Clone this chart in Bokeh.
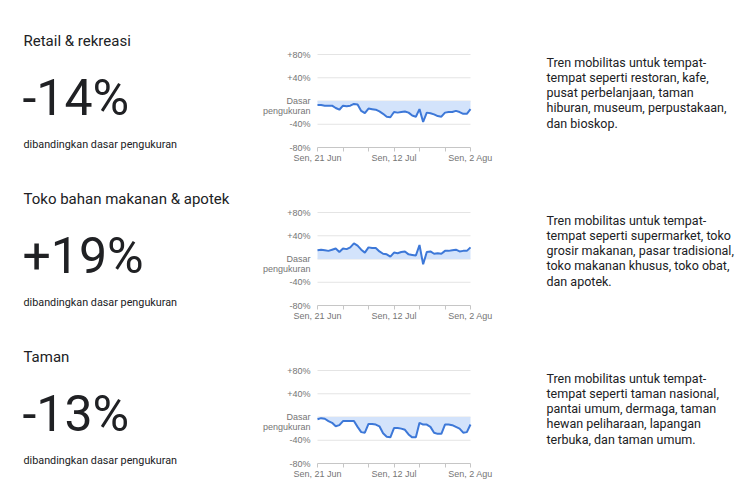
from bokeh.plotting import figure
from bokeh.models import ColumnDataSource, Range1d, FixedTicker, LinearAxis
from bokeh.layouts import column
from bokeh.core.properties import value
from bokeh.embed import file_html
from bokeh.resources import INLINE

# ---------------- data ----------------
categories = ["Retail & rekreasi", "Toko bahan makanan & apotek", "Taman"]
headlines = ["-14%", "+19%", "-13%"]
subtitle = "dibandingkan dasar pengukuran"
descriptions = [
    ["Tren mobilitas untuk tempat-", "tempat seperti restoran, kafe,",
     "pusat perbelanjaan, taman", "hiburan, museum, perpustakaan,", "dan bioskop."],
    ["Tren mobilitas untuk tempat-", "tempat seperti supermarket, toko",
     "grosir makanan, pasar tradisional,", "toko makanan khusus, toko obat,", "dan apotek."],
    ["Tren mobilitas untuk tempat-", "tempat seperti taman nasional,",
     "pantai umum, dermaga, taman", "hewan peliharaan, lapangan", "terbuka, dan taman umum."],
]

days = list(range(43))  # 21 Jun .. 2 Agu
retail = [-7, -7, -8, -8, -8, -12, -15, -8, -9, -8,
          -5, -6, -17, -21, -13, -14, -15, -18, -22, -27,
          -28, -19, -20, -19, -18, -20, -25, -27, -14, -36,
          -20, -21, -23, -26, -27, -20, -19, -19, -17, -19,
          -22, -22, -14]
grocery = [15, 16, 15, 14, 16, 18, 12, 18, 17, 20,
           27, 23, 16, 11, 20, 19, 19, 13, 9, 8,
           4, 11, 10, 12, 13, 8, 7, 6, 24, -9,
           12, 13, 9, 10, 9, 14, 14, 15, 16, 13,
           14, 14, 20]
parks = [-4, -2, -3, -7, -10, -16, -14, -7, -7, -7,
         -7, -17, -26, -27, -12, -12, -13, -16, -28, -34,
         -35, -19, -19, -20, -22, -30, -35, -35, -10, -13,
         -13, -17, -27, -29, -29, -13, -13, -14, -17, -20,
         -27, -26, -13]
series = [retail, grocery, parks]

week_ticks = [0, 7, 14, 21, 28, 35, 42]
x_tick_labels = {0: "Sen, 21 Jun", 21: "Sen, 12 Jul", 42: "Sen, 2 Agu"}
y_ticks = [-80, -40, 0, 40, 80]
y_tick_labels = {80: "+80%", 40: "+40%", 0: "\nDasar\npengukuran", -40: "-40%", -80: "-80%"}

# ---------------- layout constants ----------------
W = 750
CH_L, CH_R = 317, 470          # chart area, px
CH_H = 93                       # chart area height, px
DARK = "#202124"
FONT = "Roboto"
AX_FONT = "Liberation Sans"
GRAY = "#757575"


def make_row(i, pad):
    h = 158 + pad
    top = 46 + pad              # px of +80%
    bot = top + CH_H            # px of -80%
    x0, x1 = days[0], days[-1]
    y0, y1 = y_ticks[0], y_ticks[-1]
    kx = (CH_R - CH_L) / (x1 - x0)
    ky = CH_H / (y1 - y0)
    p = figure(width=W, height=h,
               x_range=Range1d(x0 - CH_L / kx, x1 + (W - CH_R) / kx),
               y_range=Range1d(y0 - (h - bot) / ky, y1 + top / ky),
               x_axis_location=None, y_axis_location=None,
               output_backend="svg", toolbar_location=None, min_border=0,
               outline_line_color=None, background_fill_color="white",
               border_fill_color="white")
    p.grid.grid_line_color = None
    p.extra_x_ranges = {"px": Range1d(0, W)}
    p.extra_y_ranges = {"px": Range1d(h, 0)}

    # ---- texts (pixel coordinates, vertical centres) ----
    def txt(xs, ys, texts, size):
        p.text(x=xs, y=ys, text=texts, x_range_name="px", y_range_name="px",
               text_font=value(FONT), text_font_size=size, text_color=DARK,
               text_baseline="middle", text_align="left")

    txt([23], [32.5 + pad], [categories[i]], "15px")
    txt([22], [89 + pad], [headlines[i]], "50px")
    txt([23], [135.5 + pad], [subtitle], "10.8px")
    lines = descriptions[i]
    txt([546] * len(lines), [53.5 + pad + 15.3 * k for k in range(len(lines))], lines, "12.5px")

    # ---- chart ----
    grid_levels = [t for t in y_ticks if t > y0]
    p.segment(x0=[x0] * len(grid_levels), x1=[x1] * len(grid_levels),
              y0=grid_levels, y1=grid_levels, line_color="#e4e4e4", line_width=1)
    src = ColumnDataSource(dict(x=days, y=series[i]))
    p.varea(x="x", y1=0, y2="y", source=src, fill_color="#d3e3fb", fill_alpha=1.0)
    p.line("x", "y", source=src, line_color="#3d78d8", line_width=2)

    xa = LinearAxis(fixed_location=y0, bounds=(x0, x1))
    xa.ticker = FixedTicker(ticks=week_ticks)
    xa.major_label_overrides = {t: x_tick_labels.get(t, "") for t in week_ticks}
    xa.axis_line_color = "#c6c6c6"
    xa.major_tick_line_color = "#c6c6c6"
    xa.major_tick_in = 0
    xa.major_tick_out = 4
    xa.minor_tick_line_color = None
    xa.major_label_standoff = 1
    xa.major_label_text_font = AX_FONT
    xa.major_label_text_font_size = "9px"
    xa.major_label_text_color = GRAY
    p.add_layout(xa, "below")

    ya = LinearAxis(fixed_location=x0, bounds=(y0, y1))
    ya.ticker = FixedTicker(ticks=y_ticks)
    ya.major_label_overrides = y_tick_labels
    ya.axis_line_color = None
    ya.major_tick_line_color = None
    ya.minor_tick_line_color = None
    ya.major_label_standoff = 1
    ya.major_label_text_font = AX_FONT
    ya.major_label_text_font_size = "9px"
    ya.major_label_text_color = GRAY
    ya.major_label_text_line_height = 0.95
    p.add_layout(ya, "left")
    return p


layout = column(make_row(0, 8), make_row(1, 0), make_row(2, 0))

open("out.html", "w").write(file_html(layout, INLINE))
